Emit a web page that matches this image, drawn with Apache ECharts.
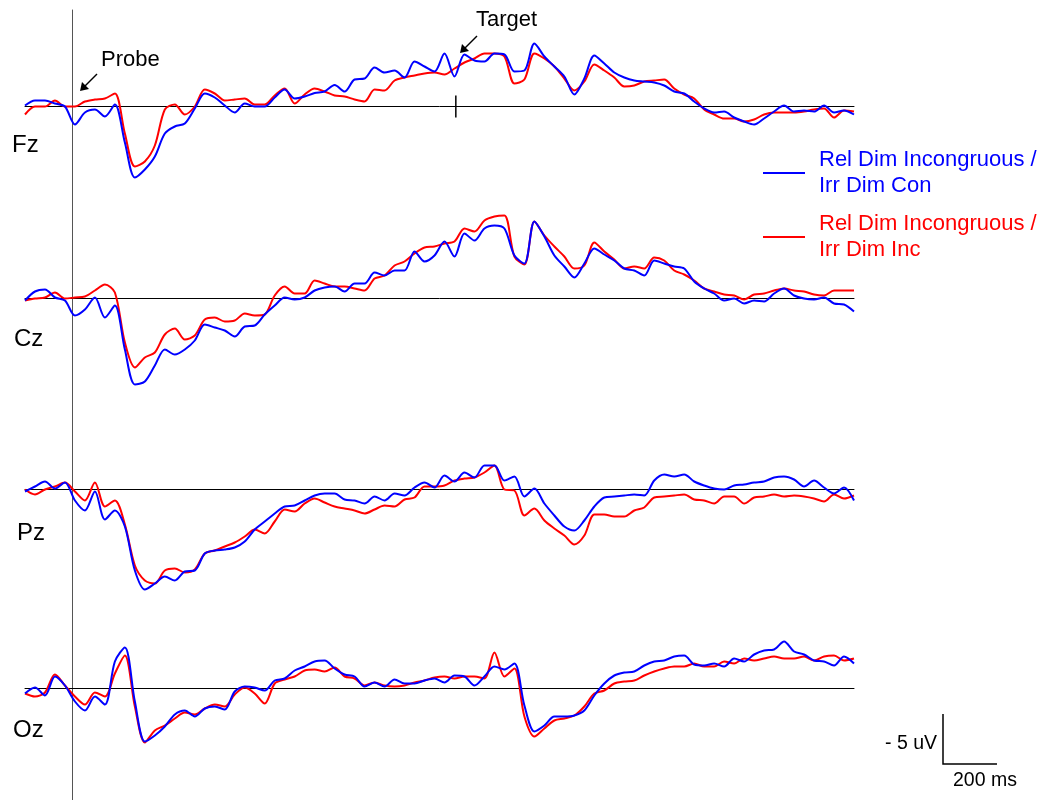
<!DOCTYPE html>
<html><head><meta charset="utf-8">
<script src="https://cdn.jsdelivr.net/npm/echarts@6/dist/echarts.min.js"></script>
<style>html,body{margin:0;padding:0;background:#fff}#c{width:1057px;height:800px}</style>
</head><body><div id="c"></div>
<script>
// ---- data (uV, negative plotted up), sampled every STEP_MS from START_MS ----
const START_MS = -174, STEP_MS = 37;
const channels = ['Fz', 'Cz', 'Pz', 'Oz'];
const seriesNames = ['Rel Dim Incongruous /\nIrr Dim Con', 'Rel Dim Incongruous /\nIrr Dim Inc'];
const targetMs = 1422;
const scaleBarMs = 200, scaleBarUv = 5;

const fzBlue = [-0.1,-0.6,-0.6,-0.3,0.0,1.8,0.6,0.3,1.0,-0.2,
  3.6,7.1,6.3,5.0,2.7,2.0,1.7,0.2,-1.3,-0.9,
  -0.1,0.6,-0.3,0.0,0.0,-0.9,-1.7,-0.8,-1.0,-1.35,
  -1.5,-2.15,-1.5,-2.7,-2.8,-3.9,-3.4,-3.6,-2.9,-4.5,
  -4.0,-3.5,-5.3,-3.0,-5.2,-4.6,-4.5,-5.3,-5.2,-3.5,
  -3.6,-6.3,-5.0,-4.0,-3.0,-1.2,-2.8,-5.1,-4.3,-3.4,
  -2.9,-2.6,-2.5,-2.4,-2.1,-1.5,-1.3,-0.5,0.2,0.6,
  0.5,1.1,1.5,1.8,1.2,0.5,-0.1,0.5,0.4,0.5,
  -0.1,0.6,0.4,0.8];
const fzRed = [0.8,0.0,0.0,-0.6,0.0,0.0,-0.5,-0.7,-0.8,-1.3,
  2.7,6.0,5.5,3.9,0.3,-0.2,0.8,0.0,-1.7,-1.3,
  -0.6,-0.7,-0.8,-0.2,-0.2,-1.1,-1.8,-0.3,-1.2,-1.8,
  -1.5,-1.1,-1.0,-0.7,-0.5,-1.7,-1.6,-2.6,-2.9,-3.1,
  -3.3,-3.4,-3.2,-3.8,-4.4,-4.8,-5.3,-5.3,-5.0,-2.3,
  -2.7,-5.3,-4.8,-4.0,-2.8,-1.6,-2.5,-4.2,-3.6,-2.9,
  -2.0,-2.1,-2.5,-2.6,-2.7,-1.8,-1.2,-0.8,0.3,0.8,
  1.2,1.2,1.5,1.3,0.8,0.6,0.6,0.6,0.5,0.3,
  0.2,1.1,0.4,0.5];
const czBlue = [0.2,-0.7,-0.9,-0.1,0.2,1.7,1.1,-0.1,1.9,0.7,
  5.1,8.6,8.3,6.7,5.1,5.6,5.1,4.2,2.6,2.9,
  3.2,3.8,2.8,2.7,1.6,0.7,-0.1,0.1,-0.1,-0.8,
  -1.1,-1.2,-0.7,-1.5,-1.5,-2.6,-2.3,-2.8,-2.8,-4.7,
  -3.7,-4.3,-5.7,-4.2,-6.5,-5.8,-7.0,-7.3,-7.0,-4.3,
  -3.5,-7.7,-6.2,-4.3,-3.2,-2.1,-3.5,-5.0,-4.4,-3.8,
  -3.0,-2.8,-2.3,-3.8,-3.5,-3.2,-3.0,-1.7,-1.0,-0.5,
  0.2,0.0,0.5,0.2,0.3,-0.5,-1.0,-0.3,0.0,0.1,
  -0.1,0.5,0.6,1.3];
const czRed = [0.2,0.0,-0.1,-0.6,0.0,-0.1,-0.2,-0.8,-1.4,-0.6,
  4.4,6.9,5.9,5.4,3.6,3.0,4.1,3.7,2.1,1.9,
  2.3,2.2,1.5,1.7,1.6,-0.3,-1.2,-0.5,-0.5,-1.8,
  -1.5,-1.2,-1.2,-1.0,-0.8,-2.0,-2.3,-3.3,-3.7,-4.5,
  -5.1,-5.2,-5.5,-5.7,-7.0,-6.7,-7.8,-8.2,-8.3,-4.2,
  -3.4,-7.7,-6.3,-5.2,-4.2,-3.0,-3.3,-5.6,-4.7,-3.9,
  -3.0,-3.2,-3.0,-4.1,-3.8,-2.8,-2.4,-1.8,-1.0,-0.7,
  -0.4,-0.3,0.1,-0.4,-0.5,-0.8,-1.0,-0.8,-0.7,-0.4,
  -0.3,-0.8,-0.8,-0.8];
const pzBlue = [0.2,-0.3,-0.8,-0.1,-0.7,1.1,2.1,0.2,3.0,2.1,
  3.7,8.1,10.0,9.4,8.7,9.1,8.2,8.1,6.4,6.1,
  6.0,5.8,5.2,4.0,3.2,2.4,1.7,1.6,1.1,0.6,
  0.4,0.4,1.0,1.1,1.4,0.7,1.1,0.4,0.6,-0.2,
  -0.7,-0.2,-1.4,-0.8,-1.7,-1.2,-2.4,-2.4,-0.9,-1.3,
  0.7,-0.1,1.4,2.6,3.7,4.1,3.1,1.7,0.8,0.7,
  0.6,0.5,0.6,-0.9,-1.5,-1.3,-1.5,-0.8,-0.4,-0.1,
  0.0,-0.4,-0.5,-0.7,-0.8,-1.2,-1.3,-1.0,-0.3,-0.9,
  -0.2,0.4,-0.2,1.1];
const pzRed = [0.0,0.5,0.0,-0.3,-0.7,0.2,1.1,-0.7,1.7,1.1,
  3.5,7.6,9.1,9.4,8.1,7.9,8.3,8.0,6.4,6.1,
  5.7,5.3,4.7,4.0,4.4,3.2,2.0,2.2,1.4,0.9,
  1.3,1.7,1.9,2.1,2.4,2.0,1.6,1.7,1.0,0.8,
  -0.3,-0.3,-0.4,-0.9,-1.1,-1.2,-1.7,-2.4,0.0,0.1,
  2.6,1.9,3.1,3.9,4.6,5.5,4.6,2.5,2.5,2.7,
  2.7,2.1,1.8,0.8,0.7,0.6,0.5,1.0,1.1,1.4,
  0.7,0.7,1.4,0.8,0.7,0.5,0.7,0.6,0.7,0.9,
  1.2,0.5,0.9,0.6];
const ozBlue = [0.5,-0.1,0.7,-1.2,-0.3,1.3,2.2,0.8,1.6,-2.7,
  -4.1,1.3,5.3,4.7,3.8,2.6,2.2,2.8,2.0,1.8,
  2.1,0.3,-0.2,-0.1,0.2,-0.8,-1.0,-1.8,-2.2,-2.7,
  -2.8,-2.0,-1.4,-1.2,-0.2,-0.6,-0.2,-0.9,-0.5,-0.5,
  -0.8,-1.0,-0.6,-1.3,-1.2,-0.3,-1.2,-2.2,-1.9,-2.5,
  1.7,4.3,3.7,2.8,2.8,2.7,2.2,0.7,-0.5,-1.3,
  -1.6,-1.7,-2.3,-2.7,-2.8,-3.2,-3.3,-2.4,-2.3,-2.5,
  -2.2,-3.0,-2.7,-3.4,-3.8,-3.9,-4.7,-3.7,-3.4,-2.8,
  -2.7,-2.3,-3.2,-2.5];
const ozRed = [0.5,0.8,0.4,-1.4,-0.3,0.8,1.6,0.4,0.8,-1.5,
  -3.3,1.8,5.4,4.2,3.7,3.0,2.4,2.6,2.0,1.6,
  1.8,0.6,-0.1,0.5,1.5,-0.5,-0.9,-1.2,-1.8,-1.9,
  -1.7,-2.1,-1.2,-1.0,-0.3,-0.6,-0.3,-0.2,-0.3,-0.6,
  -0.8,-1.1,-1.2,-1.0,-1.2,-1.2,-1.0,-3.6,-1.2,-2.0,
  2.8,4.8,4.0,3.2,3.0,2.7,1.8,0.5,0.2,-0.5,
  -0.7,-0.8,-1.3,-1.7,-2.0,-2.2,-2.2,-2.5,-2.2,-2.2,
  -2.7,-2.5,-3.0,-2.8,-3.0,-3.2,-3.0,-3.0,-3.2,-2.8,
  -3.2,-3.3,-2.8,-3.0];

const blueData = [fzBlue, czBlue, pzBlue, ozBlue];
const redData = [fzRed, czRed, pzRed, ozRed];

// ---- layout / style ----
const FONT = 'Arial, "Liberation Sans", sans-serif';
const BLUE = '#0000FF', RED = '#FF0000';
const baselines = [106.5, 298.5, 489.5, 688.5];
const labelPos = [[12, 145], [14, 339], [17, 533], [13, 730]];
const PX_PER_UV = 10, Y_HALF = 10;
const xMax = START_MS + (fzBlue.length - 1) * STEP_MS;

const toPairs = arr => arr.map((v, i) => [START_MS + i * STEP_MS, v]);

const grids = [], xAxes = [], yAxes = [], series = [];
channels.forEach((ch, k) => {
  grids.push({ left: 25, width: 829, top: baselines[k] - Y_HALF * PX_PER_UV, height: 2 * Y_HALF * PX_PER_UV });
  xAxes.push({ gridIndex: k, type: 'value', min: START_MS, max: xMax,
    axisLine: { show: true, onZero: true, lineStyle: { color: '#000', width: 1 } },
    axisTick: { show: false }, axisLabel: { show: false }, splitLine: { show: false } });
  yAxes.push({ gridIndex: k, type: 'value', inverse: true, min: -Y_HALF, max: Y_HALF,
    axisLine: { show: false }, axisTick: { show: false }, axisLabel: { show: false }, splitLine: { show: false } });
  series.push({ name: seriesNames[1], type: 'line', xAxisIndex: k, yAxisIndex: k, data: toPairs(redData[k]),
    showSymbol: false, smooth: 0.3, clip: false, lineStyle: { color: RED, width: 2 }, itemStyle: { color: RED } });
  series.push({ name: seriesNames[0], type: 'line', xAxisIndex: k, yAxisIndex: k, data: toPairs(blueData[k]),
    showSymbol: false, smooth: 0.3, clip: false, lineStyle: { color: BLUE, width: 2 }, itemStyle: { color: BLUE } });
});
// full-height grid for the stimulus-onset line at t = 0
grids.push({ left: 25, width: 829, top: 10, bottom: 0 });
xAxes.push({ gridIndex: 4, type: 'value', min: START_MS, max: xMax, show: true,
  axisLine: { show: false }, axisTick: { show: false }, axisLabel: { show: false }, splitLine: { show: false } });
yAxes.push({ gridIndex: 4, type: 'value', min: 0, max: 1,
  axisLine: { show: true, onZero: true, lineStyle: { color: '#555', width: 1 } },
  axisTick: { show: false }, axisLabel: { show: false }, splitLine: { show: false } });
// target marker tick on Fz
series.push({ name: 'target', type: 'line', xAxisIndex: 0, yAxisIndex: 0,
  data: [[targetMs, -1.1], [targetMs, 1.1]], showSymbol: false, silent: true,
  lineStyle: { color: '#000', width: 1.5 } });

const graphic = [];
channels.forEach((ch, k) => {
  graphic.push({ type: 'text', x: labelPos[k][0], y: labelPos[k][1],
    style: { text: ch, font: '24px ' + FONT, fill: '#000', textVerticalAlign: 'middle' } });
});
function arrow(x1, y1, x2, y2) {
  graphic.push({ type: 'line', shape: { x1, y1, x2: x2 + 4, y2: y2 - 4 }, style: { stroke: '#000', lineWidth: 1.5 } });
  graphic.push({ type: 'polygon', shape: { points: [[x2, y2], [x2 + 2, y2 - 9], [x2 + 9, y2 - 2]] }, style: { fill: '#000' } });
}
graphic.push({ type: 'text', x: 101, y: 60, style: { text: 'Probe', font: '22px ' + FONT, fill: '#000', textVerticalAlign: 'middle' } });
arrow(97, 74, 80, 91);
graphic.push({ type: 'text', x: 476, y: 20, style: { text: 'Target', font: '22px ' + FONT, fill: '#000', textVerticalAlign: 'middle' } });
arrow(477, 36, 460, 53);

const chart = echarts.init(document.getElementById('c'), null, { renderer: 'canvas' });
chart.setOption({
  animation: false,
  backgroundColor: '#fff',
  grid: grids, xAxis: xAxes, yAxis: yAxes, series,
  legend: {
    orient: 'vertical', left: 758, top: 142, itemWidth: 42, itemHeight: 2, itemGap: 12,
    icon: 'rect', selectedMode: false,
    data: [
      { name: seriesNames[0], textStyle: { color: BLUE } },
      { name: seriesNames[1], textStyle: { color: RED } }
    ],
    textStyle: { fontFamily: FONT, fontSize: 22, lineHeight: 26, padding: [0, 0, 0, 9] }
  },
  graphic
});

// scale bar derived from the axis scales
const p0 = chart.convertToPixel({ gridIndex: 3 }, [0, 0]);
const p1 = chart.convertToPixel({ gridIndex: 3 }, [scaleBarMs, -scaleBarUv]);
const bw = p1[0] - p0[0], bh = p0[1] - p1[1];
const cx = 943, cy = 764;
graphic.push({ type: 'polyline', shape: { points: [[cx, cy - bh], [cx, cy], [cx + bw, cy]] }, style: { stroke: '#000', lineWidth: 1.5, fill: null } });
graphic.push({ type: 'text', x: 937, y: 744, style: { text: '- ' + scaleBarUv + ' uV', font: '19.5px ' + FONT, fill: '#000', textAlign: 'right', textVerticalAlign: 'middle' } });
graphic.push({ type: 'text', x: 953, y: 781, style: { text: scaleBarMs + ' ms', font: '19.5px ' + FONT, fill: '#000', textVerticalAlign: 'middle' } });
chart.setOption({ graphic }, { replaceMerge: ['graphic'] });
</script></body></html>
